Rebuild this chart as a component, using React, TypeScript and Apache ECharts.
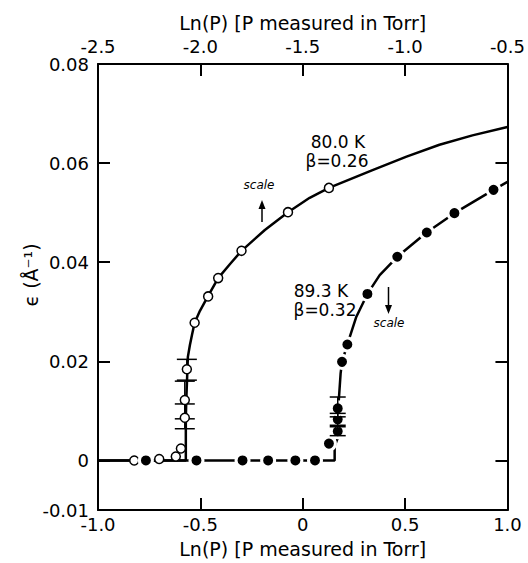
import { useEffect, useRef } from 'react';
import * as echarts from 'echarts';

// ---- axis ticks ----
const bottomTicks = [-1.0, -0.5, 0, 0.5, 1.0];
const topTicks = [-2.5, -2.0, -1.5, -1.0, -0.5];
const yLabelValues = [-0.01, 0, 0.02, 0.04, 0.06, 0.08];
const yTickValues = [0, 0.02, 0.04, 0.06];

// ---- 80.0 K (beta = 0.26), plotted against the top Ln(P) scale ----
const curve80X = [-2.5, -2.071, -2.071, -2.069, -2.066, -2.061, -2.051, -2.041, -2.028, -2.002, -1.962, -1.913, -1.856, -1.799, -1.685, -1.572, -1.466, -1.372, -1.159, -0.993, -0.832, -0.671, -0.5];
const curve80Y = [0, 0, 0.0082, 0.012, 0.0152, 0.0209, 0.0233, 0.0253, 0.0278, 0.0302, 0.0332, 0.0368, 0.0396, 0.0423, 0.0465, 0.0501, 0.053, 0.055, 0.0586, 0.0613, 0.0637, 0.0656, 0.0673];
const points80X = [-2.323, -2.201, -2.12, -2.095, -2.076, -2.076, -2.066, -2.028, -1.962, -1.913, -1.799, -1.572, -1.372];
const points80Y = [0, 0.0003, 0.0008, 0.0024, 0.0086, 0.0122, 0.0184, 0.0278, 0.0331, 0.0368, 0.0423, 0.0501, 0.055];
const err80X = [-2.066, -2.076, -2.076];
const err80Low = [0.0162, 0.0084, 0.0064];
const err80High = [0.0204, 0.016, 0.0114];

// ---- 89.3 K (beta = 0.32), plotted against the bottom Ln(P) scale ----
const curve89X = [-1.0, 0.156, 0.156, 0.171, 0.173, 0.185, 0.192, 0.218, 0.262, 0.316, 0.376, 0.462, 0.605, 0.741, 0.932, 1.0];
const curve89Y = [0, 0, 0.0029, 0.0045, 0.0102, 0.0175, 0.0199, 0.0234, 0.029, 0.0336, 0.0374, 0.0411, 0.046, 0.0499, 0.0546, 0.0562];
const points89X = [-0.766, -0.519, -0.294, -0.169, -0.036, 0.06, 0.128, 0.171, 0.171, 0.171, 0.192, 0.218, 0.316, 0.462, 0.606, 0.741, 0.932];
const points89Y = [0, 0, 0, 0, 0, 0, 0.0034, 0.0059, 0.0083, 0.0105, 0.0199, 0.0234, 0.0336, 0.0411, 0.046, 0.0499, 0.0546];
const err89X = [0.171, 0.171, 0.171];
const err89Low = [0.005, 0.0071, 0.0088];
const err89High = [0.0068, 0.0095, 0.0128];

const FONT = 'DejaVu Sans';
const zip = (a: number[], b: number[]) => a.map((v, i) => [v, b[i]]);
const zip3 = (a: number[], b: number[], c: number[]) => a.map((v, i) => [v, b[i], c[i]]);

function errorBars(capHalf: number, lineWidth: number) {
  return (_params: any, api: any) => {
    const x = api.value(0);
    const lo = api.coord([x, api.value(1)]);
    const hi = api.coord([x, api.value(2)]);
    const st = { stroke: '#000', lineWidth };
    return {
      type: 'group',
      children: [
        { type: 'line', shape: { x1: lo[0], y1: lo[1], x2: hi[0], y2: hi[1] }, style: st },
        { type: 'line', shape: { x1: lo[0] - capHalf, y1: lo[1], x2: lo[0] + capHalf, y2: lo[1] }, style: st },
        { type: 'line', shape: { x1: hi[0] - capHalf, y1: hi[1], x2: hi[0] + capHalf, y2: hi[1] }, style: st },
      ],
    };
  };
}

export default function App() {
  const ref = useRef<HTMLDivElement>(null);
  useEffect(() => {
    if (!ref.current) return;
    const chart = echarts.init(ref.current, undefined, { renderer: 'svg' });
    const axisLine = { show: true, onZero: false, lineStyle: { color: '#000', width: 2 } };
    const tick = { show: true, inside: true, length: 12, lineStyle: { color: '#000', width: 2 } };
    const lbl = { color: '#000', fontFamily: FONT, fontSize: 18 };
    const nameStyle = { color: '#000', fontFamily: FONT, fontSize: 19 };
    const fmt1 = (v: number) => (Math.abs(v) < 1e-9 ? '0' : v.toFixed(1));
    const fmt2 = (v: number) => (Math.abs(v) < 1e-9 ? '0' : v.toFixed(2));
    const txt = (text: string, x: number, y: number, size: number, italic = false) => ({
      type: 'text', x, y,
      style: { text, fill: '#000', fontFamily: FONT, fontSize: size, fontStyle: italic ? 'italic' : 'normal', align: 'center', verticalAlign: 'middle' },
    });
    const option: any = {
      animation: false,
      backgroundColor: '#fff',
      grid: { left: 98, right: 20, top: 64, bottom: 53, containLabel: false },
      xAxis: [
        {
          type: 'value', position: 'bottom',
          min: bottomTicks[0], max: bottomTicks[bottomTicks.length - 1], interval: 0.5,
          splitLine: { show: false }, axisLine, axisTick: tick,
          axisLabel: { ...lbl, margin: 5, formatter: fmt1 },
          name: 'Ln(P) [P measured in Torr]', nameLocation: 'middle', nameGap: 29,
          nameTextStyle: nameStyle,
        },
        {
          type: 'value', position: 'top',
          min: topTicks[0], max: topTicks[topTicks.length - 1], interval: 0.5,
          splitLine: { show: false }, axisLine, axisTick: tick,
          axisLabel: { ...lbl, margin: 9, formatter: fmt1 },
          name: 'Ln(P) [P measured in Torr]', nameLocation: 'middle', nameGap: 28,
          nameTextStyle: nameStyle,
        },
      ],
      yAxis: [
        {
          type: 'value', position: 'left',
          min: yLabelValues[0], max: yLabelValues[yLabelValues.length - 1],
          splitLine: { show: false }, axisLine,
          axisTick: { ...tick, customValues: yTickValues },
          axisLabel: { ...lbl, margin: 9, customValues: yLabelValues, formatter: fmt2 },
        },
        {
          type: 'value', position: 'right',
          min: yLabelValues[0], max: yLabelValues[yLabelValues.length - 1],
          splitLine: { show: false }, axisLine,
          axisTick: { ...tick, customValues: yTickValues },
          axisLabel: { show: false, customValues: yTickValues },
        },
      ],
      series: [
        {
          name: '80.0 K curve', type: 'line', xAxisIndex: 1, yAxisIndex: 0,
          data: zip(curve80X, curve80Y), showSymbol: false, symbol: 'none',
          lineStyle: { color: '#000', width: 2.5 }, z: 2,
        },
        {
          name: '89.3 K curve', type: 'line', xAxisIndex: 0, yAxisIndex: 0,
          data: zip(curve89X, curve89Y), showSymbol: false, symbol: 'none',
          lineStyle: { color: '#000', width: 2.5 }, z: 2,
        },
        {
          name: '80.0 K errors', type: 'custom', xAxisIndex: 1, yAxisIndex: 0,
          data: zip3(err80X, err80Low, err80High), encode: { x: 0, y: [1, 2] },
          renderItem: errorBars(10, 1.5), z: 3,
        },
        {
          name: '80.0 K', type: 'scatter', xAxisIndex: 1, yAxisIndex: 0,
          data: zip(points80X, points80Y), symbol: 'circle', symbolSize: 9,
          itemStyle: { color: '#fff', borderColor: '#000', borderWidth: 1.5, opacity: 1 }, z: 5,
        },
        {
          name: '89.3 K', type: 'scatter', xAxisIndex: 0, yAxisIndex: 0,
          data: zip(points89X, points89Y), symbol: 'circle', symbolSize: 13,
          itemStyle: { color: '#000', borderColor: '#fff', borderWidth: 3, opacity: 1 }, z: 6,
        },
        {
          name: '89.3 K errors', type: 'custom', xAxisIndex: 0, yAxisIndex: 0,
          data: zip3(err89X, err89Low, err89High), encode: { x: 0, y: [1, 2] },
          renderItem: errorBars(8, 1.5), z: 7,
        },
      ],
      graphic: [
        {
          type: 'text', x: 31, y: 275, rotation: Math.PI / 2,
          style: { text: 'ϵ (Å⁻¹)', fill: '#000', fontFamily: FONT, fontSize: 19, align: 'center', verticalAlign: 'middle' },
        },
        txt('80.0 K', 338, 142, 17),
        txt('β=0.26', 337, 161, 17),
        txt('89.3 K', 321, 291, 17),
        txt('β=0.32', 325, 310, 17),
        txt('scale', 259, 185, 12, true),
        { type: 'line', shape: { x1: 262, y1: 222, x2: 262, y2: 207 }, style: { stroke: '#000', lineWidth: 1.5 } },
        { type: 'polygon', shape: { points: [[262, 200], [258.5, 209], [265.5, 209]] }, style: { fill: '#000' } },
        txt('scale', 389, 323, 12, true),
        { type: 'line', shape: { x1: 388.5, y1: 287, x2: 388.5, y2: 306 }, style: { stroke: '#000', lineWidth: 1.5 } },
        { type: 'polygon', shape: { points: [[388.5, 314], [385, 305], [392, 305]] }, style: { fill: '#000' } },
      ],
    };
    chart.setOption(option);
    return () => chart.dispose();
  }, []);
  return <div ref={ref} style={{ position: 'fixed', left: 0, top: 0, width: 528, height: 563, background: '#fff' }} />;
}
